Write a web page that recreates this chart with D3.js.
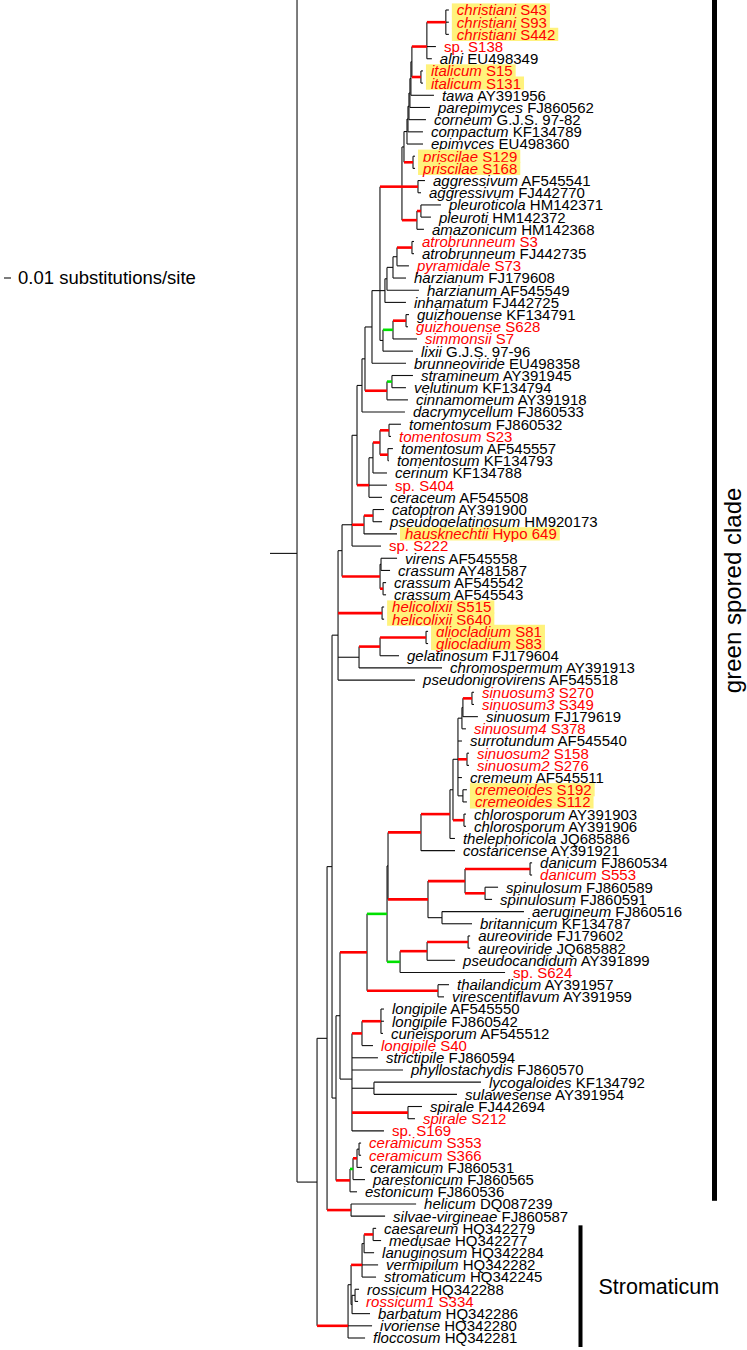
<!DOCTYPE html>
<html>
<head>
<meta charset="utf-8">
<script src="https://cdn.jsdelivr.net/npm/d3@7/dist/d3.min.js"></script>
<style>
html,body{margin:0;padding:0;background:#fff;}
svg{display:block;}
</style>
</head>
<body>
<svg id="chart" width="747" height="1350"></svg>
<script>
// ================= DATA =================
// Branch lengths in substitutions/site; [r] = red branch, [g] = green branch.
const nwChristianiGroup = "(('christiani S43':0.0043,'christiani S93':0.0043,'christiani S442':0.0043):0.0271[r],'sp. S138':0.0129,'alni EU498349':0.0071)";
const nwItalicum = "('italicum S15':0.0029,'italicum S131':0.0029)";
const nwTopLadder = `((((((${nwChristianiGroup}:0.0214[r],${nwItalicum}:0.0129[r]):0.0014,'tawa AY391956':0.0329):0.0014,'parepimyces FJ860562':0.0286):0.0014,'corneum G.J.S. 97-82':0.0243):0.0014,'compactum KF134789':0.0214):0.0014,'epimyces EU498360':0.0229)`;
const nwAggrGroup = `((${nwTopLadder}:0.0043,('priscilae S129':0.0029,'priscilae S168':0.0029):0.0129[r]):0.0029,('aggressivum AF545541':0.0100,'aggressivum FJ442770':0.0043):0.0229[r],(('pleuroticola HM142371':0.0286,'pleuroti HM142372':0.0143):0.0057[r],'amazonicum HM142368':0.0100):0.0214[r])`;
const nwHarzianum = "((((('atrobrunneum S3':0.0029,'atrobrunneum FJ442735':0.0029):0.0214[r],'pyramidale S73':0.0171):0.0057,'harzianum FJ179608':0.0186):0.0086,'harzianum AF545549':0.0457):0.0029,'inhamatum FJ442725':0.0300)";
const nwGuizhouense = "((('guizhouense KF134791':0.0043,'guizhouense S628':0.0029):0.0186[r],'simmonsii S7':0.0343):0.0143[g],'lixii G.J.S. 97-96':0.0429)";
const nwHarzComplex = `((${nwAggrGroup}:0.0314[r],${nwHarzianum}:0.0071,${nwGuizhouense}:0.0043):0.0114,'brunneoviride EU498358':0.0486)`;
const nwStramineum = "(('stramineum AY391945':0.0300,'velutinum KF134794':0.0200):0.0071[g],'cinnamomeum AY391918':0.0300)";
const nwN362 = `((${nwHarzComplex}:0.0100,${nwStramineum}:0.0314[r]):0.0043,'dacrymycellum FJ860533':0.0614)`;
const nwTomentosum = "(((('tomentosum FJ860532':0.0171,'tomentosum S23':0.0029):0.0129[r],('tomentosum AF545557':0.0071,'tomentosum KF134793':0.0014):0.0114[r]):0.0100[r],'cerinum KF134788':0.0200):0.0057,'sp. S404':0.0257,'ceraceum AF545508':0.0186)";
const nwCatoptron = "(('catoptron AY391900':0.0157,'pseudogelatinosum HM920173':0.0129):0.0129[r],'hausknechtii Hypo 649':0.0471)";
const nwN352 = `((${nwN362}:0.0071,${nwTomentosum}:0.0171[r]):0.0071,${nwCatoptron}:0.0171[r],'sp. S222':0.0414)`;
const nwCrassum = "(('virens AF545558':0.0229,'crassum AY481587':0.0129):0.0014,('crassum AF545542':0.0043,'crassum AF545543':0.0043):0.0043[r])";
const nwGliocladium = "((('gliocladium S81':0.0029,'gliocladium S83':0.0029):0.0657[r],'gelatinosum FJ179604':0.0271):0.0300[r],'chromospermum AY391913':0.1186)";
const nwUpperGreen = `((${nwN352}:0.0143,${nwCrassum}:0.0543[r]):0.0057,('helicolixii S515':0.0029,'helicolixii S640':0.0029):0.0629[r],${nwGliocladium}:0.0300,'pseudonigrovirens AF545518':0.1100)`;
const nwSinuosum = "((('sinuosum3 S270':0.0029,'sinuosum3 S349':0.0029):0.0129[r],'sinuosum FJ179619':0.0214):0.0014,'sinuosum4 S378':0.0057)";
const nwSinuosumGroup = `(((${nwSinuosum}:0.0057,'surrotundum AF545540':0.0057,('sinuosum2 S158':0.0029,'sinuosum2 S276':0.0029):0.0129[r],'cremeum AF545511':0.0057,('cremeoides S192':0.0057,'cremeoides S112':0.0057):0.0071):0.0071,('chlorosporum AY391903':0.0029,'chlorosporum AY391906':0.0029):0.0157[r]):0.0043,'thelephoricola JQ685886':0.0071)`;
const nwDanicum = "((('danicum FJ860534':0.0029,'danicum S553':0.0029):0.0929[r],('spinulosum FJ860589':0.0186,'spinulosum FJ860591':0.0100):0.0286[r]):0.0529[r],('aerugineum FJ860516':0.1171,'britannicum KF134787':0.0429):0.0200)";
const nwAureoviride = "((('aureoviride FJ179602':0.0029,'aureoviride JQ685882':0.0029):0.0586[r],'pseudocandidum AY391899':0.0400):0.0386[r],'sp. S624':0.1500)";
const nwE3 = `((((${nwSinuosumGroup}:0.0414[r],'costaricense AY391921':0.0486):0.0471[r],${nwDanicum}:0.0571[r]):0.0014,${nwAureoviride}:0.0186[g]):0.0286[g],('thailandicum AY391957':0.0157,'virescentiflavum AY391959':0.0086):0.1014[r])`;
const nwLongipile = "((('longipile AF545550':0.0043,'longipile FJ860542':0.0043,'cuneisporum AF545512':0.0029):0.0271[r],'longipile S40':0.0157):0.0143[r],'strictipile FJ860594':0.0371,'phyllostachydis FJ860570':0.0729,('lycogaloides KF134792':0.1529,'sulawesense AY391954':0.1186):0.0314,('spirale FJ442694':0.0200,'spirale S212':0.0100):0.0800[r],'sp. S169':0.0457)";
const nwCeramicum = "(((('ceramicum S353':0.0029,'ceramicum S366':0.0029):0.0029,'ceramicum FJ860531':0.0071):0.0057[r],'parestonicum FJ860565':0.0171):0.0043[g],'estonicum FJ860536':0.0100)";
const nwLowerGreen = `((${nwE3}:0.0386[r],${nwLongipile}:0.0171):0.0057,${nwCeramicum}:0.0200[r])`;
const nwGreenSpored = `((${nwUpperGreen}:0.0086,${nwLowerGreen}:0.0057):0.0071,('helicum DQ087239':0.0929,'silvae-virgineae FJ860587':0.0486):0.0343[r])`;
const nwStromaticum = "((((('caesareum HQ342279':0.0043,'medusae HQ342277':0.0114):0.0129[r],'lanuginosum HQ342284':0.0143):0.0029,'vermipilum HQ342282':0.0229,'stromaticum HQ342245':0.0200):0.0157[r],(('rossicum HQ342288':0.0057,'rossicum1 S334':0.0043):0.0043,'barbatum HQ342286':0.0257):0.0014):0.0043,'ivoriense HQ342280':0.0343,'floccosum HQ342281':0.0243)";
const outgroupName = "outgroup";
const outgroupRow = -7;               // outgroup lies above the visible frame
const treeNewick = `('${outgroupName}':0.0500,(${nwGreenSpored}:0.0143,${nwStromaticum}:0.0443[r]):0.0286):0.0386;`;

// isolates of this study (red labels)
const studyIsolates = ["christiani S43","christiani S93","christiani S442","sp. S138","italicum S15","italicum S131",
  "priscilae S129","priscilae S168","atrobrunneum S3","pyramidale S73","guizhouense S628","simmonsii S7",
  "tomentosum S23","sp. S404","hausknechtii Hypo 649","sp. S222","helicolixii S515","helicolixii S640",
  "gliocladium S81","gliocladium S83","sinuosum3 S270","sinuosum3 S349","sinuosum4 S378","sinuosum2 S158",
  "sinuosum2 S276","cremeoides S192","cremeoides S112","danicum S553","sp. S624","longipile S40","spirale S212",
  "sp. S169","ceramicum S353","ceramicum S366","rossicum1 S334"];
// labels with yellow highlight
const highlighted = ["christiani S43","christiani S93","christiani S442","italicum S15","italicum S131",
  "priscilae S129","priscilae S168","hausknechtii Hypo 649","helicolixii S515","helicolixii S640",
  "gliocladium S81","gliocladium S83","cremeoides S192","cremeoides S112"];
// clade bars
const cladeLabels = ["green spored clade", "Stromaticum"];
const cladeFirst = ["christiani S43", "caesareum HQ342279"];
const cladeLast = ["estonicum FJ860536", "floccosum HQ342281"];
// scale bar
const scaleBarValue = 0.01;
const scaleBarLabel = "0.01 substitutions/site";

// ================= PARSE =================
function parseNewick(str) {
  let i = 0;
  const ws = () => { while (i < str.length && /\s/.test(str[i])) i++; };
  function node() {
    ws();
    const n = {};
    if (str[i] === '(') {
      n.children = [];
      i++;
      n.children.push(node()); ws();
      while (str[i] === ',') { i++; n.children.push(node()); ws(); }
      i++; ws();
    }
    if (str[i] === "'") { const j = str.indexOf("'", i + 1); n.name = str.slice(i + 1, j); i = j + 1; }
    else { const m = /^[^:,();\[\s]*/.exec(str.slice(i)); n.name = m[0]; i += m[0].length; }
    ws();
    if (str[i] === ':') { i++; ws(); const m = /^[-+0-9.eE]+/.exec(str.slice(i)); n.length = +m[0]; i += m[0].length; ws(); }
    if (str[i] === '[') { const j = str.indexOf(']', i); n.tag = str.slice(i + 1, j); i = j + 1; }
    return n;
  }
  return node();
}

// ================= LAYOUT =================
const svg = d3.select('#chart');
const FONT = '"Liberation Sans", Arial, Helvetica, sans-serif';
const RED = '#ff0000', GREEN = '#00e000', BLACK = '#111';

const root = d3.hierarchy(parseNewick(treeNewick));
root.each(d => { d.dist = (d.parent ? d.parent.dist : 0) + (d.data.length || 0); });

const x = d3.scaleLinear().domain([0, scaleBarValue]).range([270, 277]);
const leaves = root.leaves();
const visible = leaves.filter(l => l.data.name !== outgroupName);
const y = d3.scaleLinear().domain([0, visible.length - 1]).range([10, 1338]);
visible.forEach((l, i) => { l.row = i; l.py = y(i); });
leaves.filter(l => l.data.name === outgroupName).forEach(l => { l.py = y(outgroupRow); l.hidden = true; });
root.eachAfter(d => {
  if (d.children) {
    const ys = d.children.map(c => c.py), n = ys.length;
    d.py = (ys[Math.floor((n - 1) / 2)] + ys[Math.ceil((n - 1) / 2)]) / 2;
  }
});
const byName = new Map(visible.map(l => [l.data.name, l]));

const gTree = svg.append('g');
const links = root.descendants().filter(d => d.parent);
const col = t => t === 'r' ? RED : t === 'g' ? GREEN : BLACK;

// black horizontal branches
gTree.selectAll('line.hb').data(links.filter(d => !d.data.tag)).join('line')
  .attr('x1', d => x(d.parent.dist)).attr('x2', d => x(d.dist))
  .attr('y1', d => d.py).attr('y2', d => d.py)
  .attr('stroke', BLACK).attr('stroke-width', 1.1);
// vertical connectors
gTree.selectAll('line.v').data(root.descendants().filter(d => d.children)).join('line')
  .attr('x1', d => x(d.dist)).attr('x2', d => x(d.dist))
  .attr('y1', d => d.children[0].py).attr('y2', d => d.children[d.children.length - 1].py)
  .attr('stroke', BLACK).attr('stroke-width', 1.1);
// root stem
gTree.append('line').attr('x1', x(0)).attr('x2', x(root.dist)).attr('y1', root.py).attr('y2', root.py)
  .attr('stroke', BLACK).attr('stroke-width', 1.1);
// coloured branches
gTree.selectAll('line.cb').data(links.filter(d => d.data.tag)).join('line')
  .attr('x1', d => x(d.parent.dist)).attr('x2', d => x(d.dist))
  .attr('y1', d => d.py).attr('y2', d => d.py)
  .attr('stroke', d => col(d.data.tag)).attr('stroke-width', 2.6);

// labels
const gLab = svg.append('g');
const lab = gLab.selectAll('g').data(visible).join('g')
  .attr('transform', d => `translate(${x(d.dist) + 8},${d.py})`);
const txt = lab.append('text')
  .attr('dy', '0.36em')
  .style('font-family', FONT).style('font-size', '15px')
  .attr('fill', d => studyIsolates.includes(d.data.name) ? RED : '#000');
txt.append('tspan')
  .style('font-style', d => d.data.name.split(' ')[0] === 'sp.' ? 'normal' : 'italic')
  .text(d => d.data.name.split(' ')[0]);
txt.append('tspan')
  .text(d => ' ' + d.data.name.split(' ').slice(1).join(' '));
lab.each(function (d) {
  if (!highlighted.includes(d.data.name)) return;
  const t = d3.select(this).select('text');
  const w = t.node().getComputedTextLength();
  d3.select(this).insert('rect', 'text')
    .attr('x', -5).attr('y', -6.6).attr('width', w + 8).attr('height', 13.2)
    .attr('fill', '#fff27c');
});

// clade bars
const barX = [714.5, 580.5], barW = [5, 4];
cladeLabels.forEach((name, i) => {
  const y0 = byName.get(cladeFirst[i]).py, y1 = byName.get(cladeLast[i]).py;
  const top = i === 0 ? y0 - 10 : y0 - 3, bot = y1 + 9;
  svg.append('rect').attr('x', barX[i] - barW[i] / 2).attr('y', top).attr('width', barW[i]).attr('height', bot - top).attr('fill', '#000');
  const mid = (top + bot) / 2;
  if (i === 0) {
    svg.append('text').attr('transform', `translate(${barX[i] + 18},${mid - 10}) rotate(-90)`)
      .attr('text-anchor', 'middle').attr('dy', '0.35em')
      .style('font-family', FONT).style('font-size', '24px').text(name);
  } else {
    svg.append('text').attr('x', barX[i] + 18).attr('y', mid).attr('dy', '0.35em')
      .style('font-family', FONT).style('font-size', '21.5px').text(name);
  }
});

// scale bar
const sbY = 278, sbX = 4;
svg.append('line').attr('x1', sbX).attr('x2', sbX + (x(scaleBarValue) - x(0))).attr('y1', sbY).attr('y2', sbY)
  .attr('stroke', BLACK).attr('stroke-width', 1.1);
svg.append('text').attr('x', 18).attr('y', sbY).attr('dy', '0.35em')
  .style('font-family', FONT).style('font-size', '18.5px').text(scaleBarLabel);
</script>
</body>
</html>
